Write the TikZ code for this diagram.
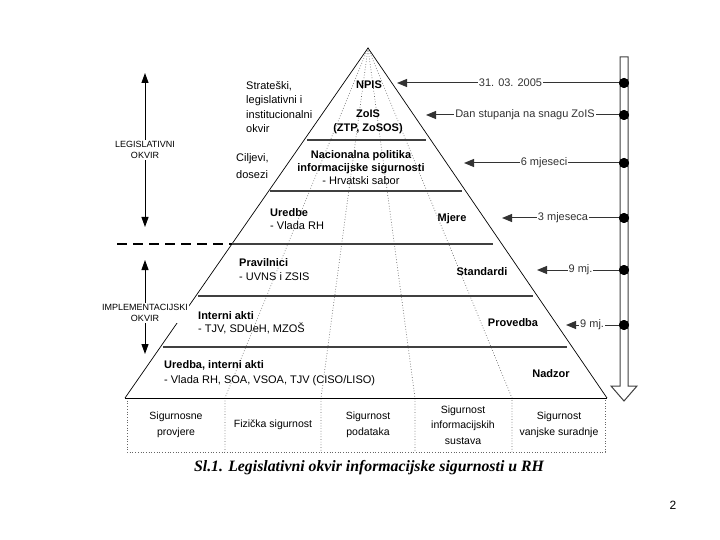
\documentclass[tikz,border=0pt]{standalone}
\usepackage{fontspec}
\setmainfont{Liberation Sans}
\newfontfamily\capfont{Liberation Serif}
\usetikzlibrary{arrows.meta}
\begin{document}
\begin{tikzpicture}[x=1pt,y=-1pt,
  txt/.style={font=\fontsize{11}{14}\selectfont, inner sep=0pt},
  btxt/.style={font=\fontsize{11}{13}\selectfont\bfseries, inner sep=0pt},
  smalltxt/.style={font=\fontsize{9}{11}\selectfont, inner sep=1pt, fill=white, align=center},
  boxtxt/.style={font=\fontsize{10.5}{15.5}\selectfont, inner sep=0pt, align=center},
  edge/.style={black, line width=0.7pt},
  layer/.style={black!75, line width=1.3pt},
  dotl/.style={black!60, dotted, line width=0.7pt},
  tip/.style={-{Triangle[length=10pt,width=8pt]}, black!80, line width=1pt},
  dtip/.style={{Triangle[length=10pt,width=7pt]}-{Triangle[length=10pt,width=7pt]}, black, line width=1pt},
  rlbl/.style={font=\fontsize{11}{13}\selectfont, fill=white, inner sep=1pt},
  dot/.style={circle, fill=black, inner sep=0pt, minimum size=10pt}]
\useasboundingbox (0,0) rectangle (720,540);

% pyramid
\coordinate (A) at (368,48);
\coordinate (BL) at (125,398);
\coordinate (BR) at (607,398);
\foreach \x in {225,321,415,512}{
  \draw[dotl] (A) -- (\x,398) -- (\x,452);
}
\draw[dotl] (127,398) -- (127,452) -- (605,452) -- (605,398);
\draw[edge] (BL) -- (A) -- (BR);
\draw[edge] (BL) -- (BR);
\draw[layer] (307,140) -- (426,140);
\draw[layer] (270,191) -- (462,191);
\draw[layer] (232,244) -- (493,244);
\draw[layer] (198,296) -- (533,296);
\draw[layer] (163,347) -- (567,347);
\draw[black, line width=1.2pt, dash pattern=on 10pt off 6pt] (117,244) -- (232,244);

% left side texts
\node[txt, anchor=west, align=left, font=\fontsize{11}{14.5}\selectfont] (strat) at (246,107) {Strateški,\\legislativni i\\institucionalni\\okvir};
\node[txt, anchor=west, align=left, font=\fontsize{11}{16.5}\selectfont] (cilj) at (236,166) {Ciljevi,\\dosezi};

% pyramid texts
\node[btxt] (npis) at (369,85) {NPIS};
\node[btxt, align=center, font=\fontsize{11}{14}\selectfont\bfseries] (zois) at (368,122) {ZoIS\\(ZTP, ZoSOS)};
\node[btxt, align=center] (nac) at (361,168) {Nacionalna politika\\informacijske sigurnosti\\\normalfont - Hrvatski sabor};
\node[btxt, anchor=west, align=left] (ured) at (270,219.5) {Uredbe\\\normalfont - Vlada RH};
\node[btxt] (mjere) at (452,219) {Mjere};
\node[btxt, anchor=west, align=left, font=\fontsize{11}{14}\selectfont\bfseries] (prav) at (239,270) {Pravilnici\\\normalfont - UVNS i ZSIS};
\node[btxt] (stand) at (482,272) {Standardi};
\node[btxt, anchor=west, align=left] (intern) at (198,323) {Interni akti\\\normalfont - TJV, SDUeH, MZOŠ};
\node[btxt] (proved) at (513,323) {Provedba};
\node[btxt, anchor=west, align=left, font=\fontsize{11}{15}\selectfont\bfseries] (uredba) at (164,373.5) {Uredba, interni akti\\\normalfont - Vlada RH, SOA, VSOA, TJV (CISO/LISO)};
\node[btxt] (nadzor) at (551,374) {Nadzor};

% bottom boxes
\node[boxtxt] (c1) at (176,425) {Sigurnosne\\provjere};
\node[boxtxt] (c2) at (273,425) {Fizička sigurnost};
\node[boxtxt] (c3) at (368,425) {Sigurnost\\podataka};
\node[boxtxt] (c4) at (463,425) {Sigurnost\\informacijskih\\sustava};
\node[boxtxt] (c5) at (559,425) {Sigurnost\\vanjske suradnje};

% left arrows
\coordinate (l1) at (145,73);
\coordinate (l2) at (145,227);
\coordinate (l3) at (145,260);
\coordinate (l4) at (145,354);
\draw[dtip] (l1) -- (l2);
\draw[dtip] (l3) -- (l4);
\node[smalltxt] (leg) at (145,150) {LEGISLATIVNI\\OKVIR};
\node[smalltxt] (impl) at (145,313) {IMPLEMENTACIJSKI\\OKVIR};

% right hollow arrow
\draw[black!75, line width=1pt, fill=white] (620,57) -- (628,57) -- (628,386) -- (637,386) -- (624,401) -- (611,386) -- (620,386) -- cycle;

% right arrows
\node[dot] (d1) at (624,83) {};
\node[dot] (d2) at (624,115) {};
\node[dot] (d3) at (624,163) {};
\node[dot] (d4) at (624,218) {};
\node[dot] (d5) at (624,270) {};
\node[dot] (d6) at (624,325) {};
\coordinate (t1) at (397,83);
\coordinate (t2) at (426,115);
\coordinate (t3) at (464,163);
\coordinate (t4) at (502,218);
\coordinate (t5) at (537,270);
\coordinate (t6) at (566,325);
\draw[tip] (d1.center) -- node[rlbl, midway] {31. 03. 2005} (t1);
\draw[tip] (d2.center) -- node[rlbl, midway] {Dan stupanja na snagu ZoIS} (t2);
\draw[tip] (d3.center) -- node[rlbl, midway] {6 mjeseci} (t3);
\draw[tip] (d4.center) -- node[rlbl, midway] {3 mjeseca} (t4);
\draw[tip] (d5.center) -- node[rlbl, midway] {9 mj.} (t5);
\draw[tip] (d6.center) -- node[rlbl, pos=0.55] {9 mj.} (t6);
\foreach \d in {d1,d2,d3,d4,d5,d6}{\node[dot] at (\d) {};}

% caption
\node[inner sep=0pt, font=\capfont\fontsize{15.8}{18}\selectfont\bfseries\itshape] (cap) at (369,468) {Sl.1. Legislativni okvir informacijske sigurnosti u RH};
\node[inner sep=0pt, font=\fontsize{12}{14}\selectfont] (page) at (673,505) {2};
\end{tikzpicture}
\end{document}
